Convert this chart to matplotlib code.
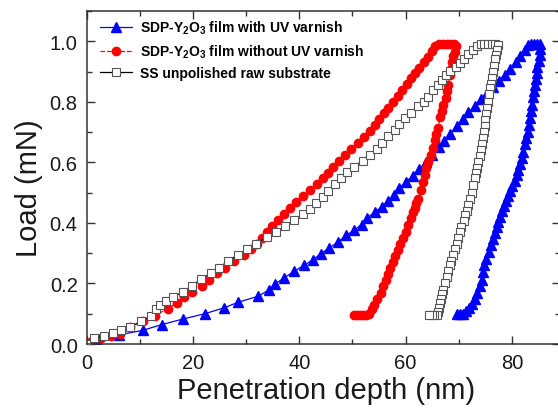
import matplotlib
matplotlib.use("Agg")
import matplotlib.pyplot as plt
from matplotlib.ticker import MultipleLocator

plt.rcParams['font.family'] = ['Liberation Sans', 'DejaVu Sans']
plt.rcParams['mathtext.default'] = 'regular'

# ---- data: (depth nm, load mN) pairs ----
# SDP-Y2O3 film with UV varnish (blue triangles)
blue_points = [
    (0, 0), (2.0, 0.010), (6.0, 0.030), (10.5, 0.045), (14.1, 0.064), (18.2, 0.083),
    (22.2, 0.100), (25.9, 0.120), (28.5, 0.138), (32.3, 0.158), (34.2, 0.178), (35.4, 0.198),
    (37.1, 0.218), (39.0, 0.240), (40.9, 0.260), (42.5, 0.278), (44.0, 0.298), (45.6, 0.317),
    (47.3, 0.337), (48.8, 0.359), (50.3, 0.376), (51.7, 0.394), (52.8, 0.417), (54.2, 0.436),
    (55.5, 0.453), (56.7, 0.472), (57.8, 0.492), (58.8, 0.515), (60.0, 0.535), (61.3, 0.555),
    (62.6, 0.578), (63.8, 0.600), (65.0, 0.625), (66.2, 0.650), (67.3, 0.672), (68.4, 0.695),
    (69.6, 0.720), (70.7, 0.742), (71.8, 0.765), (73.0, 0.787), (74.1, 0.808), (75.3, 0.830),
    (76.4, 0.850), (77.5, 0.870), (78.6, 0.888), (79.7, 0.908), (80.7, 0.930), (81.6, 0.950),
    (82.4, 0.970), (83.0, 0.988),
    (83.6, 0.990), (84.2, 0.990), (84.8, 0.990), (85.3, 0.990),
    (85.3, 0.975), (85.2, 0.955), (85.0, 0.935), (84.8, 0.915), (84.7, 0.895), (84.5, 0.875),
    (84.3, 0.855), (84.2, 0.835), (84.0, 0.815), (83.8, 0.790), (83.6, 0.770), (83.4, 0.745),
    (83.2, 0.725), (83.0, 0.700), (82.7, 0.680), (82.4, 0.660), (82.1, 0.635), (81.8, 0.613),
    (81.5, 0.595), (81.2, 0.575), (80.9, 0.558), (80.5, 0.540), (80.1, 0.522), (79.7, 0.505),
    (79.3, 0.488), (78.9, 0.471), (78.5, 0.455), (78.1, 0.438), (77.8, 0.420), (77.4, 0.403),
    (77.1, 0.385), (76.8, 0.367), (76.5, 0.348), (76.1, 0.326), (75.6, 0.304), (75.2, 0.282),
    (74.8, 0.260), (74.6, 0.237), (74.4, 0.213), (74.0, 0.190), (73.5, 0.168), (73.0, 0.150),
    (72.4, 0.133), (71.9, 0.120), (71.4, 0.110), (70.8, 0.100), (70.2, 0.100), (69.6, 0.100),
]

# SDP-Y2O3 film without UV varnish (red circles)
red_points = [
    (0, 0), (0.6, 0.006), (2.6, 0.019), (4.5, 0.026), (6.3, 0.033), (8.1, 0.055),
    (10.6, 0.077), (12.8, 0.094), (15.2, 0.116), (16.9, 0.136), (18.3, 0.155), (19.9, 0.173),
    (21.6, 0.193), (23.1, 0.213), (24.5, 0.234), (26.1, 0.252), (27.7, 0.273), (29.5, 0.293),
    (31.0, 0.315), (32.0, 0.332), (32.9, 0.350), (33.9, 0.370), (34.9, 0.389), (35.9, 0.409),
    (37.1, 0.431), (38.2, 0.450), (39.4, 0.470), (40.7, 0.490), (42.1, 0.508), (43.3, 0.527),
    (44.4, 0.547), (45.4, 0.566), (46.3, 0.586), (47.5, 0.606), (48.6, 0.625), (49.7, 0.644),
    (51.1, 0.663), (52.2, 0.683), (53.3, 0.704), (54.2, 0.724), (55.0, 0.743), (55.9, 0.762),
    (56.7, 0.781), (57.6, 0.801), (58.5, 0.820), (59.3, 0.840), (60.2, 0.860), (61.0, 0.878),
    (61.8, 0.895), (62.6, 0.912), (63.4, 0.930), (64.2, 0.948), (64.9, 0.968), (65.6, 0.985),
    (66.3, 0.990),
    (67.0, 0.990), (67.7, 0.990), (68.4, 0.990), (69.1, 0.990), (69.4, 0.985),
    (69.2, 0.965), (69.0, 0.950), (68.7, 0.930), (68.5, 0.910), (68.3, 0.890), (68.0, 0.856),
    (67.8, 0.835), (67.5, 0.812), (67.1, 0.790), (66.8, 0.770), (66.5, 0.750), (66.1, 0.713),
    (65.8, 0.695), (65.5, 0.675), (65.2, 0.646), (64.8, 0.625), (64.3, 0.602), (63.9, 0.580),
    (63.6, 0.558), (63.3, 0.536), (62.9, 0.510), (62.4, 0.480), (62.0, 0.465), (61.7, 0.450),
    (61.4, 0.437), (61.0, 0.415), (60.5, 0.392), (60.0, 0.370), (59.5, 0.350), (59.0, 0.330),
    (58.5, 0.310), (58.0, 0.290), (57.6, 0.270), (57.1, 0.250), (56.7, 0.230), (56.3, 0.210),
    (55.8, 0.190), (55.3, 0.170), (54.7, 0.150), (54.1, 0.130), (53.6, 0.115),
    (53.1, 0.100), (52.5, 0.097), (52.0, 0.097), (51.4, 0.097), (50.8, 0.097), (50.3, 0.097),
]

# SS unpolished raw substrate (open squares)
ss_points = [
    (0, 0), (1.4, 0.019), (3.2, 0.027), (5.0, 0.036), (6.5, 0.045), (8.1, 0.055),
    (10.2, 0.075), (12.1, 0.092), (13.0, 0.116), (13.8, 0.129), (15.0, 0.142), (16.3, 0.155),
    (18.1, 0.173), (19.9, 0.193), (21.5, 0.215), (23.4, 0.234), (24.9, 0.252), (26.5, 0.273),
    (28.5, 0.293), (30.1, 0.313), (31.8, 0.331), (33.9, 0.354), (35.7, 0.370), (37.3, 0.390),
    (39.0, 0.409), (40.6, 0.428), (42.0, 0.447), (43.1, 0.467), (44.4, 0.486), (45.4, 0.505),
    (46.7, 0.527), (47.8, 0.547), (49.0, 0.567), (50.3, 0.586), (51.9, 0.606), (53.3, 0.624),
    (54.6, 0.644), (55.5, 0.665), (56.6, 0.686), (58.0, 0.706), (58.8, 0.726), (59.8, 0.746),
    (61.1, 0.764), (62.4, 0.785), (63.4, 0.800), (64.2, 0.815), (65.2, 0.840), (66.0, 0.857),
    (66.8, 0.873), (67.6, 0.888), (68.4, 0.902), (69.4, 0.916), (70.2, 0.928), (71.0, 0.942),
    (71.8, 0.957), (72.6, 0.970), (73.4, 0.983), (74.1, 0.990),
    (74.8, 0.990), (75.5, 0.990), (76.2, 0.990), (76.9, 0.990), (77.3, 0.988),
    (77.2, 0.970), (77.0, 0.955), (76.8, 0.940), (76.7, 0.920), (76.5, 0.900), (76.3, 0.880),
    (76.1, 0.860), (75.9, 0.845), (75.7, 0.825), (75.5, 0.800), (75.4, 0.780), (75.2, 0.760),
    (75.0, 0.740), (74.9, 0.720), (74.7, 0.700), (74.5, 0.680), (74.3, 0.660), (74.1, 0.640),
    (73.9, 0.620), (73.7, 0.600), (73.5, 0.580), (73.3, 0.565), (73.0, 0.547), (72.7, 0.525),
    (72.4, 0.500), (72.1, 0.480), (71.8, 0.460), (71.5, 0.440), (71.2, 0.425), (70.9, 0.405),
    (70.5, 0.385), (70.2, 0.370), (69.9, 0.350), (69.6, 0.330), (69.3, 0.315), (69.0, 0.295),
    (68.6, 0.275), (68.3, 0.260), (68.0, 0.240), (67.7, 0.220), (67.4, 0.200), (67.1, 0.180),
    (66.8, 0.165), (66.6, 0.150), (66.4, 0.135), (66.2, 0.120), (66.1, 0.105), (65.9, 0.096),
    (65.4, 0.096), (64.9, 0.096), (64.4, 0.096),
]

labels = [r'SDP-Y$_2$O$_3$ film with UV varnish',
          r'SDP-Y$_2$O$_3$ film without UV varnish',
          'SS unpolished raw substrate']
x_ticks = [0, 20, 40, 60, 80]
y_ticks = [0.0, 0.2, 0.4, 0.6, 0.8, 1.0]


def split(points):
    return [p[0] for p in points], [p[1] for p in points]


fig = plt.figure(figsize=(5.58, 4.10), dpi=100)
ax = fig.add_axes([0.1554, 0.1585, 0.8478, 0.8122])

bx, by = split(blue_points)
rx, ry = split(red_points)
sx, sy = split(ss_points)

ax.plot(bx, by, color='#0000ff', lw=0.9, ls='-', marker='^', ms=6.5,
        mec='#0000ff', mfc='#0000ff', label=labels[0])
ax.plot(rx, ry, color='#ff0000', lw=0.9, ls='--', marker='o', ms=6.0,
        mec='#ff0000', mfc='#ff0000', label=labels[1])
ax.plot(sx, sy, color='black', lw=0.9, ls='-', marker='s', ms=5.5,
        mec='#555555', mfc='white', mew=0.8, label=labels[2])

ax.set_xlim(0, 89)
ax.set_ylim(0, 1.1)
ax.set_xticks(x_ticks)
ax.set_yticks(y_ticks)
ax.set_yticklabels([f'{v:.1f}' for v in y_ticks])
ax.xaxis.set_minor_locator(MultipleLocator(10))
ax.yaxis.set_minor_locator(MultipleLocator(0.1))
ax.tick_params(which='both', direction='in', top=True, right=True, width=1.0,
               labelsize=14.5, color='#333333', labelcolor='#1a1a1a')
ax.tick_params(which='major', length=5.5, pad=6.5)
ax.tick_params(which='minor', length=3.5)
for s in ax.spines.values():
    s.set_linewidth(1.1)
    s.set_color('#333333')

ax.set_xlabel('Penetration depth (nm)', fontsize=21, color='#1a1a1a')
ax.set_ylabel('Load (mN)', fontsize=21, color='#1a1a1a')
ax.xaxis.set_label_coords(0.507, -0.095)
ax.yaxis.set_label_coords(-0.092, 0.47)

leg = ax.legend(loc='upper left', frameon=False, numpoints=1,
                prop={'weight': 'bold', 'size': 10}, handlelength=2.3,
                handletextpad=0.6, borderaxespad=0.4, labelspacing=0.45,
                bbox_to_anchor=(0.005, 1.01))

fig.savefig('out.png', dpi=100)
